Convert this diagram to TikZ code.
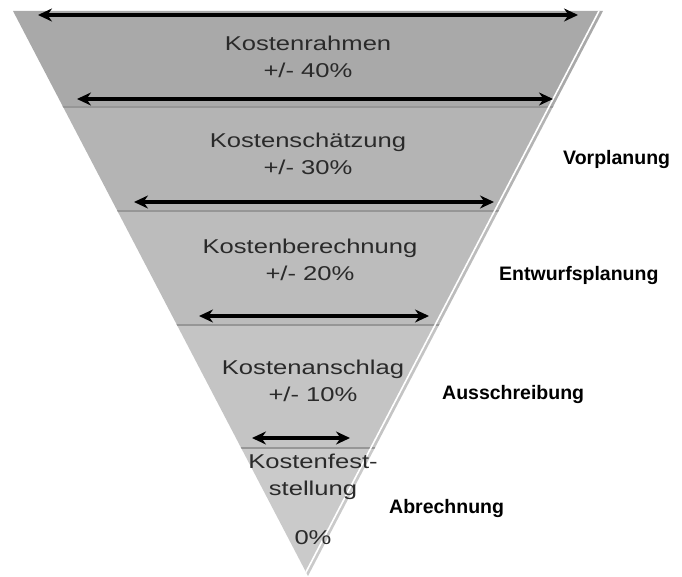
\documentclass[tikz,border=0pt]{standalone}
\usepackage{fontspec}
\setmainfont{Liberation Sans}
\usetikzlibrary{arrows.meta}
\newcommand{\stretchtxt}[1]{\scalebox{1.28}[1]{#1}}
\definecolor{bandA}{HTML}{A9A9A9}
\definecolor{bandB}{HTML}{B4B4B4}
\definecolor{bandC}{HTML}{BCBCBC}
\definecolor{bandD}{HTML}{C4C4C4}
\definecolor{bandE}{HTML}{CACACA}
\definecolor{sepcol}{HTML}{969696}
\definecolor{txtcol}{HTML}{2A2A2A}
\begin{document}
\begin{tikzpicture}[x=1pt,y=-1pt,
 inner/.style={font=\fontsize{20}{27}\selectfont, text=txtcol, align=center, inner sep=0pt},
 phase/.style={font=\fontsize{19.5}{22}\selectfont\bfseries, anchor=west, inner sep=0pt},
 span/.style={line width=3.5pt, {Stealth[length=14pt,width=13pt]}-{Stealth[length=14pt,width=13pt]}},
 sepline/.style={line width=2.5pt, draw=sepcol}]
\useasboundingbox (0,0) rectangle (682,577);
\coordinate (TL) at (13,11);
\coordinate (TR) at (603,11);
\coordinate (AP) at (308,576);
\coordinate (WT) at (599,11);
\coordinate (WB) at (305,574);
\begin{scope}
\clip (TL) -- (TR) -- (AP) -- cycle;
\fill[bandA] (0,0) rectangle (682,106);
\fill[bandB] (0,106) rectangle (682,210);
\fill[bandC] (0,210) rectangle (682,324);
\fill[bandD] (0,324) rectangle (682,447);
\fill[bandE] (0,447) rectangle (682,577);
\draw[sepline] (0,107) -- (682,107);
\draw[sepline] (0,211) -- (682,211);
\draw[sepline] (0,325) -- (682,325);
\draw[sepline] (0,448) -- (682,448);
\draw[white, line width=1.6pt] (WT) -- (WB);
\end{scope}
% arrows
\coordinate (a1l) at (38,15);  \coordinate (a1r) at (578,15);
\coordinate (a2l) at (77,99);  \coordinate (a2r) at (553,99);
\coordinate (a3l) at (134,202); \coordinate (a3r) at (494,202);
\coordinate (a4l) at (199,316); \coordinate (a4r) at (429,316);
\coordinate (a5l) at (252,438); \coordinate (a5r) at (350,438);
\draw[span] (a1l) -- (a1r);
\draw[span] (a2l) -- (a2r);
\draw[span] (a3l) -- (a3r);
\draw[span] (a4l) -- (a4r);
\draw[span] (a5l) -- (a5r);
% inner texts
\node[inner] (t1) at (308,57) {\stretchtxt{Kostenrahmen}\\\stretchtxt{+/- 40\%}};
\node[inner] (t2) at (308,154) {\stretchtxt{Kostenschätzung}\\\stretchtxt{+/- 30\%}};
\node[inner] (t3) at (310,260) {\stretchtxt{Kostenberechnung}\\\stretchtxt{+/- 20\%}};
\node[inner] (t4) at (313,381) {\stretchtxt{Kostenanschlag}\\\stretchtxt{+/- 10\%}};
\node[inner] (t5) at (313,499) {\stretchtxt{Kostenfest-}\\\stretchtxt{stellung}\\[22pt]\stretchtxt{0\%}};
% phase labels
\node[phase] (p1) at (563,160) {Vorplanung};
\node[phase] (p2) at (499,276) {Entwurfsplanung};
\node[phase] (p3) at (442,394) {Ausschreibung};
\node[phase] (p4) at (389,508) {Abrechnung};
\end{tikzpicture}
\end{document}
